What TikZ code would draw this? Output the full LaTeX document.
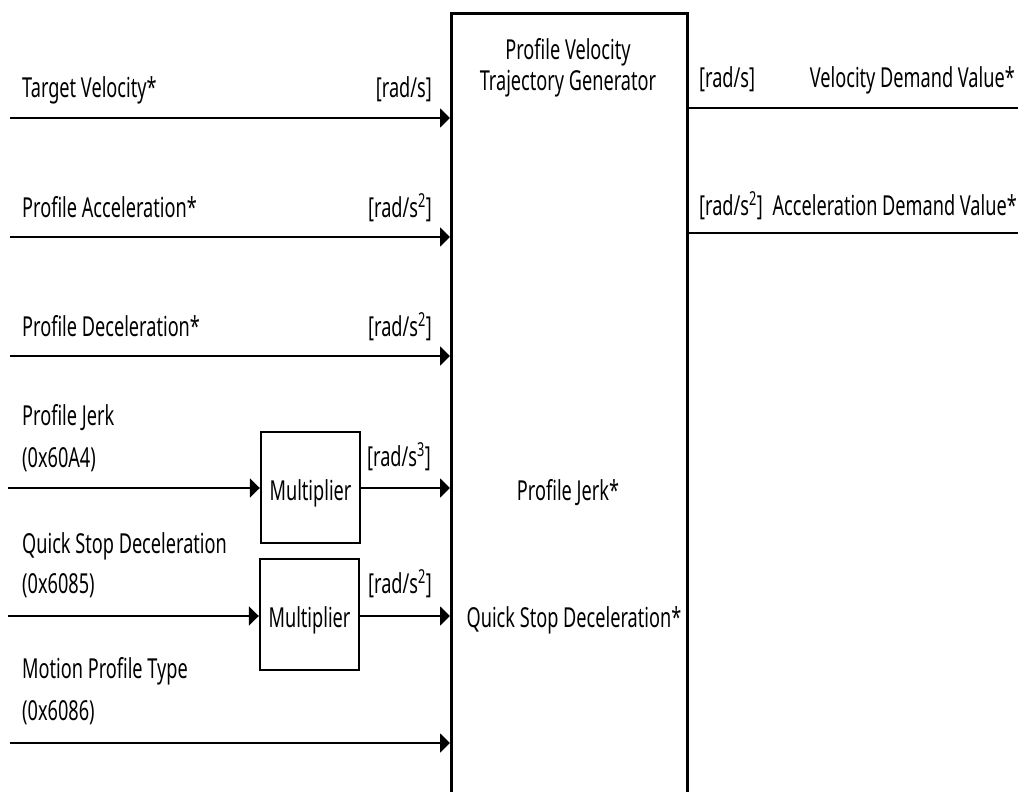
\documentclass[tikz,border=0pt]{standalone}
\usepackage{fontspec}
\setmainfont{Noto Sans}[FakeStretch=0.66]
\usetikzlibrary{arrows.meta}
\begin{document}
\begin{tikzpicture}[x=1pt,y=-1pt,
  lbl/.style={font=\fontsize{27.5}{32}\selectfont, inner sep=0pt},
  arr/.style={line width=2pt,-{Triangle[length=10pt,width=19pt]}},
  ln/.style={line width=2pt},
  bigbox/.style={draw,line width=2.6pt,inner sep=0pt},
  mult/.style={draw,line width=2.4pt,inner sep=0pt,minimum width=99pt,minimum height=111pt}]
\useasboundingbox (0,0) rectangle (1018,792);
% generator block (bottom edge runs off the page)
\node[bigbox, minimum width=236pt, minimum height=830pt, anchor=north west] (gen) at (450,12) {};
\node[lbl, anchor=base] (title1) at (568,60) {Profile Velocity};
\node[lbl, anchor=base] (title2) at (568,91) {Trajectory Generator};
\node[lbl, anchor=base] (pj) at (568,500) {Profile Jerk*};
\node[lbl, anchor=base] (qs) at (574,627) {Quick Stop Deceleration*};
% multipliers
\node[mult] (m1) at (310.5,487.5) {};
\node[mult] (m2) at (309.5,614.5) {};
\node[lbl, anchor=base] (m1t) at (m1 |- 0,500) {Multiplier};
\node[lbl, anchor=base] (m2t) at (m2 |- 0,627) {Multiplier};
% input start points
\coordinate (s1) at (10,118);
\coordinate (s2) at (10,237);
\coordinate (s3) at (10,356);
\coordinate (s4) at (8,488);
\coordinate (s5) at (8,616);
\coordinate (s6) at (10,743);
\draw[arr] (s1) -- (gen.west |- s1);
\draw[arr] (s2) -- (gen.west |- s2);
\draw[arr] (s3) -- (gen.west |- s3);
\draw[arr] (s4) -- (m1.west |- s4);
\draw[arr] (m1.east |- s4) -- (gen.west |- s4);
\draw[arr] (s5) -- (m2.west |- s5);
\draw[arr] (m2.east |- s5) -- (gen.west |- s5);
\draw[arr] (s6) -- (gen.west |- s6);
% outputs
\coordinate (o1) at (1018,108);
\coordinate (o2) at (1018,233);
\draw[ln] (gen.east |- o1) -- (o1);
\draw[ln] (gen.east |- o2) -- (o2);
% input labels
\node[lbl, anchor=base west] (t1) at (22,97) {Target Velocity*};
\node[lbl, anchor=base east] (u1) at (432,97) {[rad/s]};
\node[lbl, anchor=base west] (t2) at (22,217) {Profile Acceleration*};
\node[lbl, anchor=base east] (u2) at (432,217) {[rad/s\textsuperscript{2}]};
\node[lbl, anchor=base west] (t3) at (22,336) {Profile Deceleration*};
\node[lbl, anchor=base east] (u3) at (432,336) {[rad/s\textsuperscript{2}]};
\node[lbl, anchor=base west] (t4) at (22,425) {Profile Jerk};
\node[lbl, anchor=base west] (t4b) at (22,467) {(0x60A4)};
\node[lbl, anchor=base east] (u4) at (431,466) {[rad/s\textsuperscript{3}]};
\node[lbl, anchor=base west] (t5) at (22,553) {Quick Stop Deceleration};
\node[lbl, anchor=base west] (t5b) at (22,593) {(0x6085)};
\node[lbl, anchor=base east] (u5) at (432,593) {[rad/s\textsuperscript{2}]};
\node[lbl, anchor=base west] (t6) at (22,678) {Motion Profile Type};
\node[lbl, anchor=base west] (t6b) at (22,720) {(0x6086)};
% output labels
\node[lbl, anchor=base west] (v1) at (699,88) {[rad/s]};
\node[lbl, anchor=base east] (v1t) at (1015,88) {Velocity Demand Value*};
\node[lbl, anchor=base west] (v2) at (699,215) {[rad/s\textsuperscript{2}]};
\node[lbl, anchor=base east] (v2t) at (1017,215) {Acceleration Demand Value*};
\end{tikzpicture}
\end{document}
